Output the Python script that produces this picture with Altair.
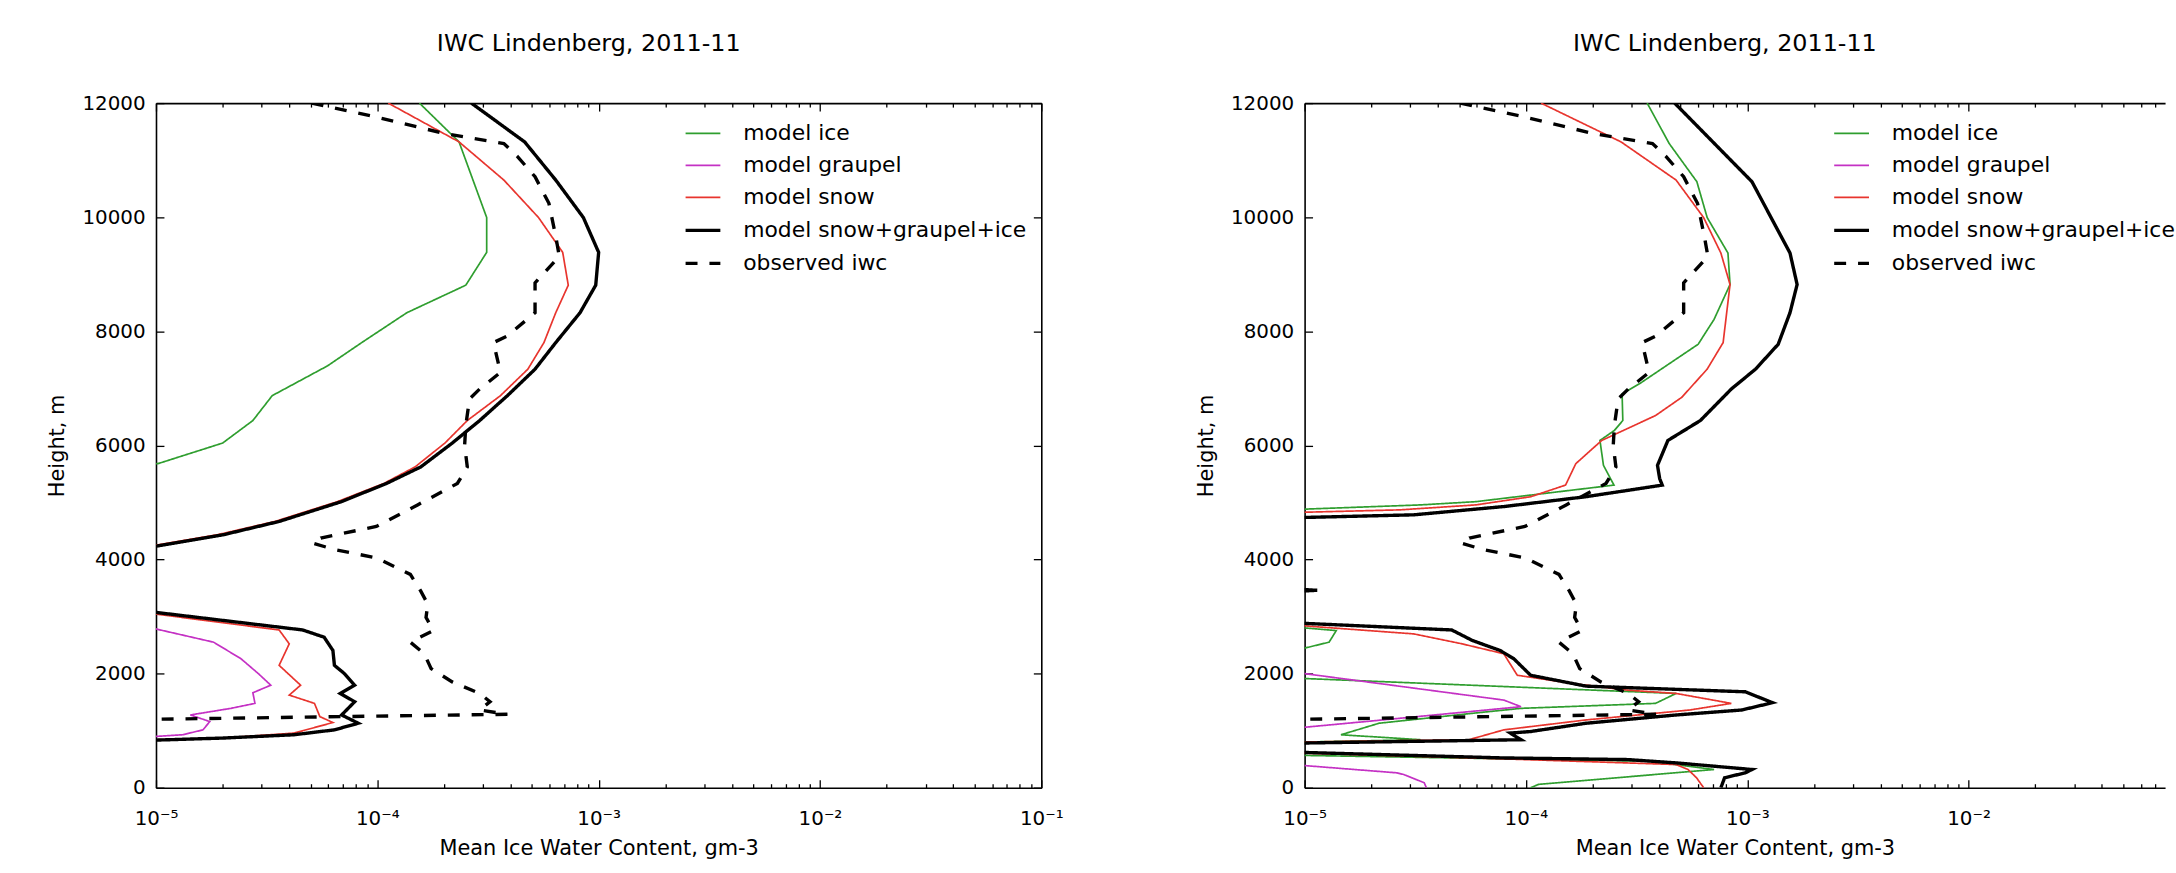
import altair as alt
import pandas as pd

FONT = "DejaVu Sans"

# ---------------- data (height in m, IWC in g m-3) ----------------
# observed IWC (same observation shown in both panels)
obs_h = [12000, 11756, 11465, 11291, 11058, 10709, 10244, 9663, 9314, 8849, 8326, 7919,
         7802, 7279, 6988, 6814, 6349, 6000, 5622, 5333, 4957, 4580, 4377, 4290, 4174,
         4029, 3739, 3449, 3217, 2985, 2754, 2551, 2348, 2087, 1855, 1652, 1507, 1362,
         1287, 1100]
obs_v = [5.05e-5, 9.9e-5, 2.02e-4, 3.73e-4, 4.31e-4, 5.16e-4, 5.96e-4, 6.4e-4, 6.64e-4,
         5.16e-4, 5.16e-4, 3.87e-4, 3.35e-4, 3.6e-4, 2.9e-4, 2.61e-4, 2.51e-4, 2.48e-4,
         2.55e-4, 2.3e-4, 1.52e-4, 9.9e-5, 5.55e-5, 5.08e-5, 6.4e-5, 9.9e-5, 1.41e-4,
         1.57e-4, 1.69e-4, 1.66e-4, 1.79e-4, 1.41e-4, 1.63e-4, 1.75e-4, 2.18e-4, 2.9e-4,
         3.23e-4, 2.9e-4, 3.87e-4, 1.5e-7]

# left panel
iceL_h = [12000, 11320, 9994, 9384, 8808, 8326, 7802, 7395, 6872, 6436, 6041, 5680, 5333]
iceL_v = [1.55e-4, 2.34e-4, 3.12e-4, 3.12e-4, 2.51e-4, 1.36e-4, 8.5e-5, 5.96e-5, 3.35e-5,
          2.74e-5, 2.0e-5, 1.02e-5, 1e-7]
graL_h = [3020, 2551, 2261, 2000, 1797, 1664, 1478, 1391, 1275, 1159, 1014, 928, 850]
graL_v = [5.4e-6, 1.82e-5, 2.42e-5, 2.9e-5, 3.3e-5, 2.74e-5, 2.8e-5, 2.18e-5, 1.43e-5,
          1.75e-5, 1.63e-5, 1.32e-5, 6.3e-6]
snoL_h = [12000, 11320, 10651, 9994, 9384, 8808, 8326, 7802, 7337, 6872, 6436, 6041, 5622,
          5333, 5014, 4667, 4435, 4150, 3290, 2765, 2522, 2145, 1797, 1623, 1478, 1246,
          1142, 957, 870, 800]
snoL_v = [1.12e-4, 2.34e-4, 3.73e-4, 5.35e-4, 6.88e-4, 7.29e-4, 6.4e-4, 5.66e-4, 4.79e-4,
          3.6e-4, 2.55e-4, 2.02e-4, 1.48e-4, 1.07e-4, 6.6e-5, 3.45e-5, 1.9e-5, 7e-6, 3.2e-6,
          3.6e-5, 4.0e-5, 3.6e-5, 4.5e-5, 4.0e-5, 5.2e-5, 5.5e-5, 6.3e-5, 4.2e-5, 2.0e-5,
          4e-6]
totL_h = [12000, 11320, 10651, 9994, 9384, 8808, 8326, 7802, 7337, 6872, 6436, 6041, 5622,
          5333, 5014, 4667, 4435, 4150, 3290, 2765, 2638, 2406, 2145, 2000, 1797, 1652,
          1507, 1275, 1130, 1014, 928, 870, 780]
totL_v = [2.66e-4, 4.63e-4, 6.4e-4, 8.53e-4, 1.0e-3, 9.7e-4, 8.24e-4, 6.4e-4, 5.16e-4,
          3.87e-4, 2.9e-4, 2.18e-4, 1.57e-4, 1.1e-4, 6.88e-5, 3.6e-5, 2.02e-5, 7.5e-6,
          3.4e-6, 4.6e-5, 5.75e-5, 6.3e-5, 6.4e-5, 7.1e-5, 7.9e-5, 6.8e-5, 7.9e-5, 6.9e-5,
          8.2e-5, 6.4e-5, 4.2e-5, 2.0e-5, 3.5e-6]

# right panel
iceR_h = [12000, 11291, 10622, 9994, 9372, 8820, 8209, 7773, 7105, 6901, 6436, 6262, 6087,
          5651, 5418, 5304, 5014, 4957, 4840, 2900, 2754, 2551, 2300, 2000, 1652, 1478,
          1391, 1300, 1130, 928, 841, 760, 600, 464, 319, 58, 0]
iceR_v = [3.53e-4, 4.44e-4, 5.92e-4, 6.59e-4, 8.18e-4, 8.36e-4, 7.08e-4, 6.0e-4, 3.33e-4,
          2.72e-4, 2.74e-4, 2.51e-4, 2.16e-4, 2.24e-4, 2.41e-4, 2.5e-4, 5.94e-5, 3.34e-5,
          5e-6, 5e-6, 1.39e-5, 1.29e-5, 7e-6, 2.8e-6, 4.77e-4, 3.85e-4, 9.5e-5, 5.6e-5,
          2.17e-5, 1.46e-5, 3.34e-5, 3e-6, 3e-6, 3.58e-4, 7.08e-4, 1.14e-4, 1.05e-4]
graR_h = [2100, 1536, 1420, 1275, 1159, 950, 480, 261, 232, 87, 0]
graR_v = [6.4e-6, 7.94e-5, 9.5e-5, 3.86e-5, 1.88e-5, 5e-6, 5e-6, 2.6e-5, 2.8e-5, 3.47e-5,
          3.55e-5]
snoR_h = [12000, 11320, 10651, 9994, 9372, 8820, 7802, 7337, 6843, 6523, 6087, 5680, 5304,
          5100, 4957, 4870, 4790, 2950, 2696, 2522, 2348, 1971, 1826, 1710, 1652, 1478,
          1362, 1188, 1014, 841, 780, 650, 505, 406, 319, 174, 0]
snoR_v = [1.17e-4, 2.69e-4, 4.77e-4, 6.35e-4, 7.6e-4, 8.36e-4, 7.78e-4, 6.59e-4, 5.06e-4,
          3.85e-4, 2.2e-4, 1.68e-4, 1.51e-4, 1.05e-4, 5.94e-5, 2.69e-5, 4e-6, 4e-6, 3.11e-5,
          5.14e-5, 7.94e-5, 9.14e-5, 1.63e-4, 2.88e-4, 4.77e-4, 8.47e-4, 5.5e-4, 1.87e-4,
          7.94e-5, 5.53e-5, 4e-6, 4e-6, 7.94e-5, 4.77e-4, 5.4e-4, 5.9e-4, 6.35e-4]
totR_h = [12000, 10622, 9372, 8820, 8326, 7773, 7337, 6988, 6436, 6087, 5651, 5418, 5304,
          5101, 4928, 4783, 4700, 3560, 3460, 3380, 2950, 2765, 2580, 2406, 2261, 1971,
          1780, 1681, 1490, 1362, 1275, 1130, 985, 957, 841, 760, 660, 522, 493, 435, 319,
          261, 174, 0]
totR_v = [4.7e-4, 1.05e-3, 1.56e-3, 1.68e-3, 1.56e-3, 1.38e-3, 1.09e-3, 8.47e-4, 6.14e-4,
          4.38e-4, 3.93e-4, 4.02e-4, 4.13e-4, 1.87e-4, 7.94e-5, 3.11e-5, 4e-6, 4e-6, 1.14e-5,
          4e-6, 4e-6, 4.62e-5, 5.73e-5, 7.64e-5, 8.81e-5, 1.05e-4, 1.87e-4, 9.8e-4, 1.3e-3,
          9.44e-4, 4.77e-4, 1.87e-4, 1.05e-4, 8.5e-5, 9.5e-5, 4e-6, 4e-6, 7.94e-5, 2.88e-4,
          4.77e-4, 1.05e-3, 9.8e-4, 7.9e-4, 7.6e-4]

SERIES = ["model ice", "model graupel", "model snow", "model snow+graupel+ice", "observed iwc"]
COLORS = ["#2f9e2f", "#c431c4", "#e8352e", "#000000", "#000000"]
WIDTHS = [1.7, 1.7, 1.7, 3.4, 3.4]
DASHES = [[1, 0], [1, 0], [1, 0], [1, 0], [12, 12]]

Y_TICKS = [0, 2000, 4000, 6000, 8000, 10000, 12000]
TITLE = "IWC Lindenberg, 2011-11"
PANEL_H = 689
DECADE = 222.75


def frame(parts):
    rows = []
    for name, hs, vs in parts:
        for i, (h, v) in enumerate(zip(hs, vs)):
            rows.append({"series": name, "h": h, "v": v, "i": i})
    return pd.DataFrame(rows)


LABEL_EXPR = ("datum.value < 0.00005 ? '10⁻⁵' : datum.value < 0.0005 ? '10⁻⁴' : "
              "datum.value < 0.005 ? '10⁻³' : datum.value < 0.05 ? '10⁻²' : '10⁻¹'")

axis_common = dict(grid=False, domainColor="black", tickColor="black", domainWidth=1.6,
                   tickWidth=1.3, labelFont=FONT, labelFontSize=20, labelColor="black",
                   titleFont=FONT, titleFontSize=21, titleColor="black",
                   titleFontWeight="normal")


def panel(df, ndec, right_spine):
    xmax = 10 ** (-5 + ndec)
    width = round(ndec * DECADE)
    xs = alt.Scale(type="log", domain=[1e-5, xmax], nice=False)
    ys = alt.Scale(domain=[0, 12000], nice=False, zero=False)
    major = [10.0 ** e for e in range(-5, 0) if 10.0 ** e <= xmax * 1.0001]
    minor = [k * 10.0 ** e for e in range(-5, -1) for k in range(2, 10) if k * 10.0 ** e <= xmax]

    lines = alt.Chart(df).mark_line(clip=True, strokeJoin="miter").encode(
        x=alt.X("v:Q", scale=xs, axis=alt.Axis(
            orient="bottom", values=major, labelExpr=LABEL_EXPR,
            title="Mean Ice Water Content, gm-3", tickSize={"expr": "-8"},
            labelPadding=29, titlePadding=9, labelFlush=False, **axis_common)),
        y=alt.Y("h:Q", scale=ys, axis=alt.Axis(
            orient="left", values=Y_TICKS, format="d", title="Height, m",
            tickSize={"expr": "-8"}, labelPadding=19, titlePadding=14, labelFlush=False,
            **axis_common)),
        color=alt.Color("series:N", scale=alt.Scale(domain=SERIES, range=COLORS),
                        legend=alt.Legend(
                            orient="none", legendX=531, legendY=12, title=None,
                            labelFont=FONT, labelFontSize=22, labelColor="black",
                            symbolType="stroke", symbolSize=1225, labelOffset=21,
                            rowPadding=2.2, labelLimit=400, padding=0)),
        strokeDash=alt.StrokeDash("series:N", scale=alt.Scale(domain=SERIES, range=DASHES),
                                  legend=alt.Legend(orient="none", legendX=531, legendY=12,
                                                    title=None)),
        strokeWidth=alt.StrokeWidth("series:N",
                                    scale=alt.Scale(type="ordinal", domain=SERIES, range=WIDTHS),
                                    legend=alt.Legend(orient="none", legendX=531, legendY=12,
                                                      title=None)),
        order="i:Q",
    )

    anchor = pd.DataFrame({"v": [1e-5], "h": [0]})
    base = alt.Chart(anchor).mark_point(opacity=0)

    right_axis = (alt.Axis(orient="right", values=Y_TICKS, labels=False, title=None,
                           tickSize={"expr": "-8"}, **axis_common)
                  if right_spine else None)
    l2 = base.encode(
        x=alt.X("v:Q", scale=xs, axis=alt.Axis(orient="bottom", values=minor, labels=False,
                                              domain=False, title=None,
                                              tickSize={"expr": "-4"}, **axis_common)),
        y=alt.Y("h:Q", scale=ys, axis=right_axis),
    )
    l3 = base.encode(
        x=alt.X("v:Q", scale=xs, axis=alt.Axis(orient="top", values=major, labels=False,
                                              title=None, tickSize={"expr": "-8"},
                                              **axis_common)),
        y=alt.Y("h:Q", scale=ys, axis=None),
    )
    l4 = base.encode(
        x=alt.X("v:Q", scale=xs, axis=alt.Axis(orient="top", values=minor, labels=False,
                                              domain=False, title=None,
                                              tickSize={"expr": "-4"}, **axis_common)),
        y=alt.Y("h:Q", scale=ys, axis=None),
    )
    return alt.layer(lines, l2, l3, l4).resolve_axis(x="independent", y="independent").properties(
        width=width, height=PANEL_H,
        title=alt.TitleParams(TITLE, font=FONT, fontSize=24, fontWeight="normal",
                              color="black", baseline="alphabetic", offset=18, dx=-10),
    )


dfL = frame([("model ice", iceL_h, iceL_v), ("model graupel", graL_h, graL_v),
             ("model snow", snoL_h, snoL_v), ("model snow+graupel+ice", totL_h, totL_v),
             ("observed iwc", obs_h, obs_v)])
dfR = frame([("model ice", iceR_h, iceR_v), ("model graupel", graR_h, graR_v),
             ("model snow", snoR_h, snoR_v), ("model snow+graupel+ice", totR_h, totR_v),
             ("observed iwc", obs_h, obs_v)])

left = panel(dfL, 4.0, True)
right = panel(dfR, 866 / DECADE, False)

chart = alt.hconcat(left, right, spacing=265, bounds="flush").resolve_scale(
    color="independent", strokeDash="independent", strokeWidth="independent",
    x="independent", y="independent",
).properties(
    padding={"left": 47, "top": 30, "right": 0, "bottom": 0},
    background="white",
).configure_view(stroke=None)

chart.save("out.html", embed_options={"renderer": "svg", "actions": False})
